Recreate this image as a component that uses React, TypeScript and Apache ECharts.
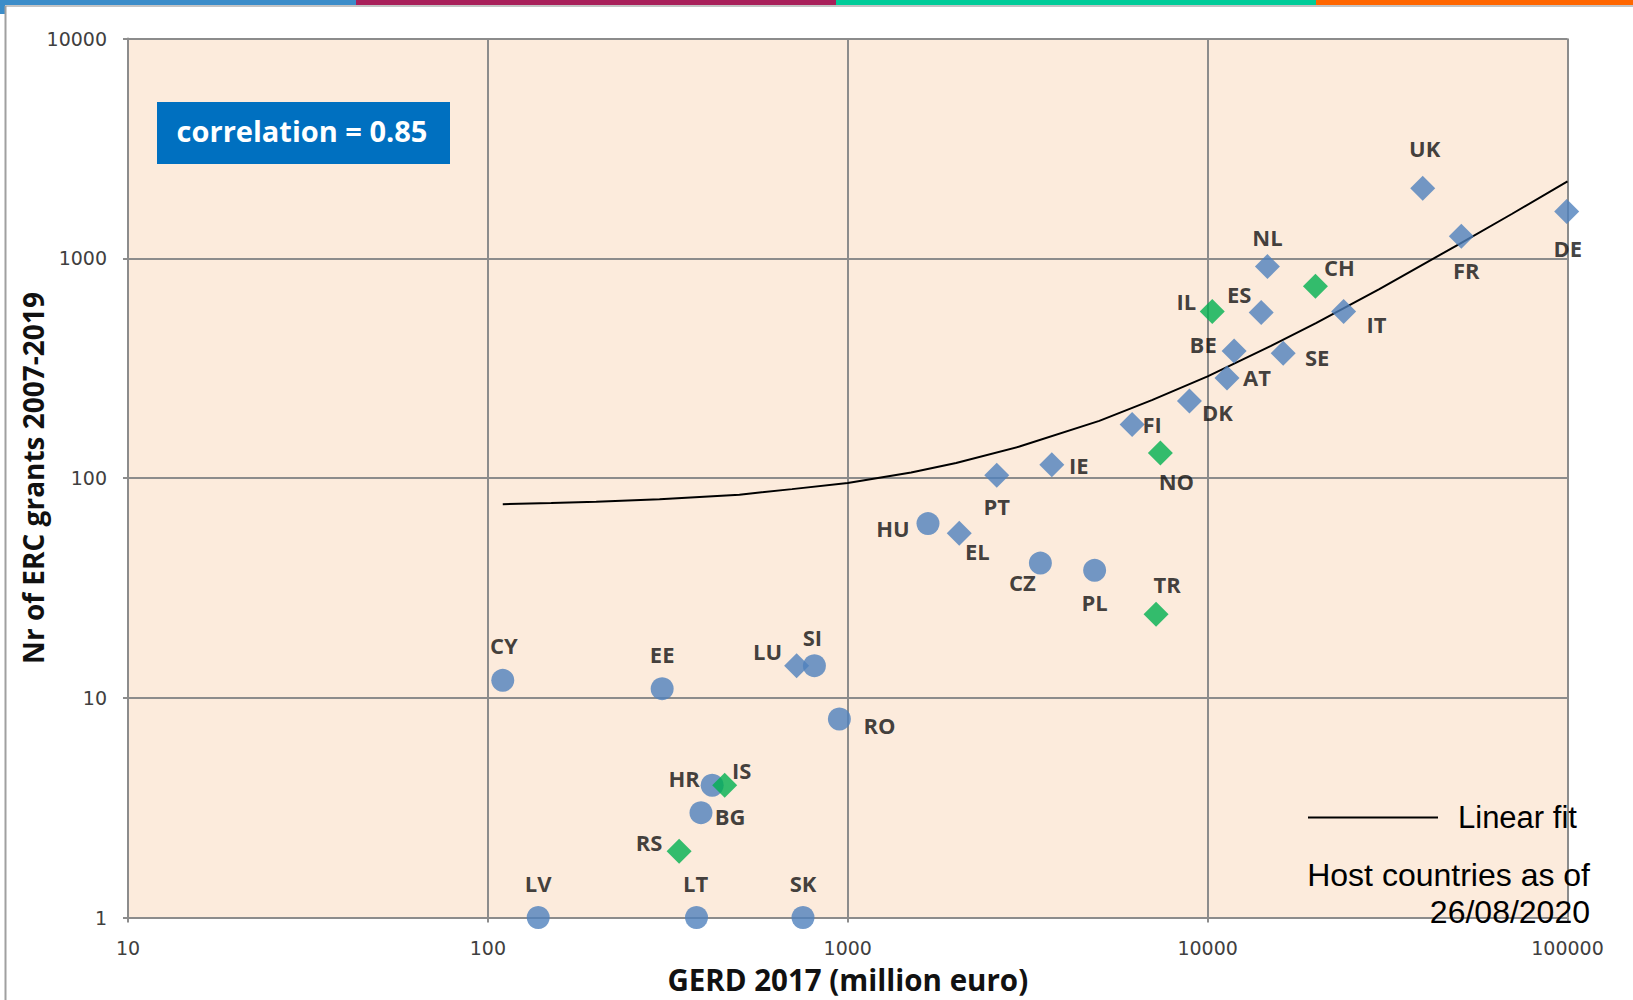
import React, { useEffect, useRef } from "react";
import * as echarts from "echarts";

// ---- data ----
const countries = ["UK", "DE", "FR", "NL", "CH", "IL", "ES", "IT", "BE", "SE", "AT", "DK", "FI", "NO", "IE", "PT", "HU", "EL", "CZ", "PL", "TR", "CY", "EE", "LU", "SI", "RO", "HR", "IS", "BG", "RS", "LV", "LT", "SK"];
const gerd = [39600, 99500, 50700, 14660, 19930, 10300, 14090, 23870, 11850, 16220, 11320, 8900, 6170, 7390, 3690, 2594, 1671, 2041, 3430, 4853, 7190, 110, 305, 721, 808, 948, 420, 455, 391, 340, 138, 380, 751];
const grants = [2080, 1634, 1258, 916, 745, 573, 566, 573, 378, 370, 285, 224, 175, 130, 115, 103, 62, 56, 41, 38, 24, 12, 11, 14, 14, 8, 4, 4, 3, 2, 1, 1, 1];
// marker groups
const circleCountries = ["HU", "CZ", "PL", "CY", "EE", "SI", "RO", "HR", "BG", "LV", "LT", "SK"];
const associatedCountries = ["CH", "IL", "NO", "TR", "IS", "RS"];
// linear fit curve
const fitX = [110, 150, 200, 300, 500, 700, 1000, 1500, 2000, 3000, 5000, 7000, 10000, 15000, 20000, 30000, 50000, 70000, 100000];
const fitY = [76, 77, 78, 80, 84, 89, 95, 106, 117, 139, 182, 226, 290, 399, 507, 724, 1160, 1590, 2240];
const xTicks = [10, 100, 1000, 10000, 100000];
const yTicks = [1, 10, 100, 1000, 10000];

// ---- label placement (style) ----
const labelOffset: Record<string, [number, number]> = {
  UK: [2, -40], NL: [0, -30], CH: [24, -19], IL: [-26, -10], ES: [-22, -19], IT: [33, 13],
  BE: [-31, -7], SE: [34, 4], AT: [30, -1], DK: [28, 11], FI: [20, -1], NO: [16, 28],
  IE: [27, 0], PT: [0, 31], FR: [5, 34], DE: [1, 37], HU: [-35, 4], EL: [18, 18],
  CZ: [-18, 19], PL: [0, 32], TR: [11, -30], CY: [1, -35], EE: [0, -35], LU: [-29, -15],
  SI: [-2, -29], RO: [40, 6], HR: [-28, -7], IS: [17, -15], BG: [29, 3], RS: [-30, -9],
  LV: [0, -35], LT: [-1, -35], SK: [0, -35],
};

const BLUE = "#4F81BD";
const GREEN = "#00B050";
const GRID = "#8C8C8C";

function pointsFor(pred: (c: string) => boolean) {
  const out: any[] = [];
  countries.forEach((c, i) => {
    if (pred(c)) {
      out.push({ name: c, value: [gerd[i], grants[i]], label: { offset: labelOffset[c] || [0, 0] } });
    }
  });
  return out;
}

export default function App() {
  const ref = useRef<HTMLDivElement>(null);
  useEffect(() => {
    if (!ref.current) return;
    const chart = echarts.init(ref.current, undefined, { renderer: "svg" });
    const labelStyle = {
      show: true,
      position: "inside",
      formatter: "{b}",
      fontFamily: "Open Sans",
      fontWeight: "bold",
      fontSize: 22,
      color: "#111",
    };
    const axisLabelFont = {
      fontFamily: "DejaVu Sans", fontSize: 19, color: "#404040",
      formatter: (v: number) => String(Math.round(v)),
    };
    const option: any = {
      animation: false,
      backgroundColor: "#ffffff",
      grid: {
        left: 128, right: 65.5, top: 38.5, bottom: 82.5,
        show: true, backgroundColor: "#FCEBDC", borderWidth: 0,
        containLabel: false, outerBoundsMode: "none",
      },
      legend: {
        data: [{ name: "Linear fit", icon: "rect" }],
        left: 1303, top: 797,
        itemWidth: 130, itemHeight: 2,
        itemGap: 0,
        textStyle: { fontFamily: "Liberation Sans", fontSize: 31, color: "#000", padding: [0, 0, 0, 15] },
        selectedMode: false,
      },
      xAxis: {
        type: "log", logBase: 10, min: xTicks[0], max: xTicks[xTicks.length - 1],
        axisLine: { show: true, lineStyle: { color: GRID, width: 2 } },
        axisTick: { show: true, length: 5, lineStyle: { color: GRID, width: 2 } },
        axisLabel: { ...axisLabelFont, margin: 21 },
        splitLine: { show: true, lineStyle: { color: GRID, width: 2 } },
        name: "GERD 2017 (million euro)", nameLocation: "middle", nameGap: 47, nameMoveOverlap: false,
        nameTextStyle: { fontFamily: "Open Sans", fontWeight: "bold", fontSize: 29.5, color: "#111" },
      },
      yAxis: {
        type: "log", logBase: 10, min: yTicks[0], max: yTicks[yTicks.length - 1],
        axisLine: { show: true, lineStyle: { color: GRID, width: 2 } },
        axisTick: { show: true, length: 5, lineStyle: { color: GRID, width: 2 } },
        axisLabel: { ...axisLabelFont, margin: 21 },
        splitLine: { show: true, lineStyle: { color: GRID, width: 2 } },
        name: "Nr of ERC grants 2007-2019", nameLocation: "middle", nameGap: 81, nameMoveOverlap: false,
        nameTextStyle: { fontFamily: "Open Sans", fontWeight: "bold", fontSize: 28, color: "#111" },
      },
      series: [
        {
          name: "Linear fit", type: "line", showSymbol: false, symbol: "none",
          data: fitX.map((x, i) => [x, fitY[i]]),
          lineStyle: { color: "#000", width: 2 }, itemStyle: { color: "#000" },
          z: 3,
        },
        {
          name: "Member diamonds", type: "scatter", symbol: "diamond", symbolSize: 25, clip: false,
          itemStyle: { color: BLUE },
          label: labelStyle,
          data: pointsFor((c) => !circleCountries.includes(c) && !associatedCountries.includes(c)),
          z: 4,
        },
        {
          name: "Member circles", type: "scatter", symbol: "circle", symbolSize: 23, clip: false,
          itemStyle: { color: BLUE },
          label: labelStyle,
          data: pointsFor((c) => circleCountries.includes(c)),
          z: 4,
        },
        {
          name: "Associated", type: "scatter", symbol: "diamond", symbolSize: 25, clip: false,
          itemStyle: { color: GREEN },
          label: labelStyle,
          data: pointsFor((c) => associatedCountries.includes(c)),
          z: 5,
        },
      ],
      graphic: [
        { type: "rect", shape: { x: 0, y: 0, width: 356, height: 5 }, style: { fill: "#3C8DC9" } },
        { type: "rect", shape: { x: 356, y: 0, width: 480, height: 5 }, style: { fill: "#A8205A" } },
        { type: "rect", shape: { x: 836, y: 0, width: 480, height: 5 }, style: { fill: "#00CC99" } },
        { type: "rect", shape: { x: 1316, y: 0, width: 317, height: 5 }, style: { fill: "#FF6600" } },
        { type: "rect", shape: { x: 0, y: 0, width: 5, height: 14 }, style: { fill: "#3C8DC9" } },
        { type: "line", shape: { x1: 5, y1: 6, x2: 1633, y2: 6 }, style: { stroke: "#B0B0B0", lineWidth: 1.5 } },
        { type: "line", shape: { x1: 5.5, y1: 6, x2: 5.5, y2: 1000 }, style: { stroke: "#A0A0A0", lineWidth: 2 } },
        {
          type: "rect", shape: { x: 157, y: 102, width: 293, height: 62 },
          style: { fill: "#0070C0" }, z: 10,
        },
        {
          type: "text", x: 302, y: 130, z: 11,
          style: {
            text: "correlation = 0.85", fill: "#fff",
            fontFamily: "Open Sans", fontWeight: "bold", fontSize: 29,
            align: "center", verticalAlign: "middle", textAlign: "center", textVerticalAlign: "middle",
          },
        },
        {
          type: "text", x: 1590, y: 856, z: 11,
          style: {
            text: "Host countries as of\n26/08/2020", fill: "#000",
            fontFamily: "Liberation Sans", fontSize: 32, lineHeight: 37,
            align: "right", verticalAlign: "top", textAlign: "right", textVerticalAlign: "top",
          },
        },
      ],
    };
    chart.setOption(option);
    return () => chart.dispose();
  }, []);
  return (
    <div
      ref={ref}
      style={{ position: "fixed", left: 0, top: 0, width: 1633, height: 1000, background: "#fff" }}
    />
  );
}
